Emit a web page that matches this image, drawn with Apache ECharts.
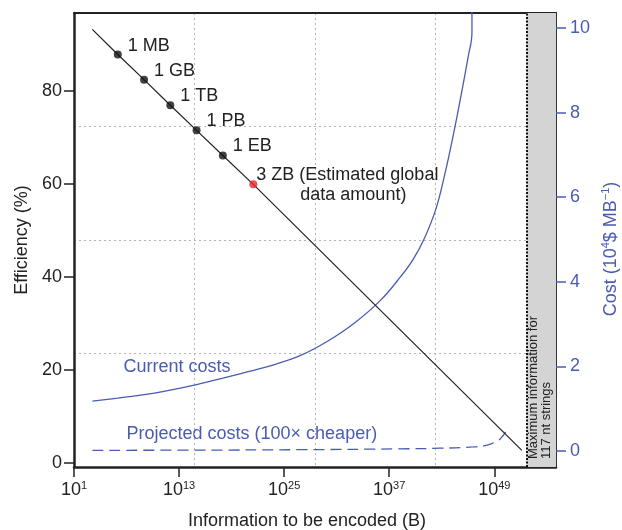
<!DOCTYPE html>
<html>
<head>
<meta charset="utf-8">
<script src="https://cdn.jsdelivr.net/npm/echarts@6/dist/echarts.min.js"></script>
<style>
  html, body { margin: 0; padding: 0; background: #fff; }
  #chart { width: 622px; height: 530px; }
</style>
</head>
<body>
<div id="chart"></div>
<script>
// x values are log10 of the number of bytes encoded
const exponentTicks = [1, 13, 25, 37, 49];
const efficiencyTicks = [0, 20, 40, 60, 80];
const costTicks = [0, 2, 4, 6, 8, 10];

// Marked data sizes on the efficiency line
const sizeLabels = ['1 MB', '1 GB', '1 TB', '1 PB', '1 EB', '3 ZB'];
const sizeExponents = [6, 9, 12, 15, 18, 21.48];
const sizeEfficiency = [87.8, 82.4, 76.9, 71.5, 66.1, 59.9];

// Efficiency (%) line
const effExponents = [3.09, 6, 9, 12, 15, 18, 21.48, 52.15];
const effValues = [93.2, 87.8, 82.4, 76.9, 71.5, 66.1, 59.9, 2.7];

// Current costs (10^4 $ per MB)
const currentExponents = [3.1, 6, 9, 12, 15, 18, 21, 24, 27, 30, 33, 36, 38.3, 39.7, 41, 42.3, 43.3, 44.3, 45.2, 46.0, 46.45, 46.45];
const currentCosts = [1.18, 1.25, 1.33, 1.44, 1.57, 1.72, 1.88, 2.05, 2.27, 2.6, 3.02, 3.56, 4.12, 4.52, 5.02, 5.7, 6.5, 7.45, 8.4, 9.3, 9.89, 11];

// Projected costs (100x cheaper)
const projectedExponents = [3.1, 15, 26.8, 38.3, 42.8, 46.6, 48.2, 49.0, 49.7, 50.3];
const projectedCosts = [0.015, 0.02, 0.03, 0.05, 0.065, 0.095, 0.14, 0.2, 0.29, 0.45];

// Upper limit of information for 117 nt strings, and the axis end
const maxInfoExponent = 52.68;
const axisMaxExponent = 56.05;

const BLUE = '#4a5bb4';
const TEXT = '#222';
const FONT = '"Liberation Sans", Arial, Helvetica, sans-serif';

const chart = echarts.init(document.getElementById('chart'), null, { renderer: 'canvas' });

const pairs = (xs, ys) => xs.map((x, i) => [x, ys[i]]);

const markerData = sizeExponents.map((x, i) => {
  const item = {
    value: [x, sizeEfficiency[i]],
    name: sizeLabels[i],
    itemStyle: { color: i === sizeLabels.length - 1 ? '#e8262d' : '#111' }
  };
  if (i === sizeLabels.length - 1) {
    item.label = {
      position: 'right',
      distance: 5,
      offset: [-6, 1],
      lineHeight: 20,
      formatter: '{n|' + sizeLabels[i] + ' }{t|(Estimated global}\n{p| }{t|data amount)}',
      rich: {
        n: { width: 43, fontSize: 18, color: TEXT, fontFamily: FONT, lineHeight: 20 },
        p: { width: 44, fontSize: 18, color: TEXT, fontFamily: FONT, lineHeight: 20 },
        t: { fontSize: 18, color: TEXT, fontFamily: FONT, lineHeight: 20 }
      }
    };
  }
  return item;
});

const dottedGrid = { show: true, lineStyle: { color: '#b4b4b4', width: 1, type: [2, 3] }, showMinLine: false, showMaxLine: false };

const option = {
  animation: false,
  backgroundColor: '#fff',
  textStyle: { fontFamily: FONT },
  grid: { left: 74, right: 66, top: 13, bottom: 63, containLabel: false, outerBoundsMode: 'none' },
  xAxis: [
    {
      type: 'value',
      min: 1,
      max: axisMaxExponent,
      position: 'bottom',
      name: 'Information to be encoded (B)',
      nameLocation: 'middle',
      nameGap: 45,
      nameTextStyle: { fontSize: 18, color: TEXT, fontFamily: FONT, padding: [0, 16, 0, 0] },
      axisLine: { show: true, onZero: false, lineStyle: { color: '#222', width: 2.5 } },
      axisTick: { show: true, inside: false, length: 10, customValues: exponentTicks, lineStyle: { color: '#222', width: 1.5 } },
      axisLabel: {
        customValues: exponentTicks,
        margin: 13,
        fontSize: 18,
        lineHeight: 20,
        color: TEXT,
        fontFamily: FONT,
        formatter: v => '10{s|' + v + '}',
        rich: { s: { fontSize: 11, lineHeight: 12, verticalAlign: 'top', color: TEXT, fontFamily: FONT } }
      },
      splitLine: { show: false }
    },
    {
      // frame top edge and the vertical dotted quarter lines
      type: 'value', min: 0, max: 4, interval: 1, position: 'top',
      axisLine: { show: true, onZero: false, lineStyle: { color: '#222', width: 2 } },
      axisTick: { show: false }, axisLabel: { show: false },
      splitLine: dottedGrid
    }
  ],
  yAxis: [
    {
      type: 'value',
      min: -0.86,
      max: 96.73,
      position: 'left',
      name: 'Efficiency (%)',
      nameLocation: 'middle',
      nameGap: 42,
      nameTextStyle: { fontSize: 18, color: TEXT, fontFamily: FONT },
      axisLine: { show: true, onZero: false, lineStyle: { color: '#222', width: 2.5 } },
      axisTick: { show: true, length: 10, customValues: efficiencyTicks, lineStyle: { color: '#222', width: 1.5 } },
      axisLabel: { customValues: efficiencyTicks, margin: 12, fontSize: 18, color: TEXT, fontFamily: FONT },
      splitLine: { show: false }
    },
    {
      type: 'value',
      min: -0.379,
      max: 10.355,
      position: 'right',
      name: 'Cost (10{s|4}$ MB{s|−1})',
      nameLocation: 'middle',
      nameGap: 42,
      nameTextStyle: {
        fontSize: 18, color: BLUE, fontFamily: FONT, lineHeight: 20, padding: [0, 18, 0, 0],
        rich: { s: { fontSize: 11, lineHeight: 12, verticalAlign: 'top', color: BLUE, fontFamily: FONT } }
      },
      axisLine: { show: true, onZero: false, lineStyle: { color: '#333', width: 2 } },
      axisTick: { show: true, length: 10, customValues: costTicks, lineStyle: { color: BLUE, width: 1.5 } },
      axisLabel: { customValues: costTicks, margin: 14, fontSize: 18, color: BLUE, fontFamily: FONT },
      splitLine: { show: false }
    },
    {
      // horizontal dotted quarter lines
      type: 'value', min: 0, max: 4, interval: 1, position: 'left',
      axisLine: { show: false, onZero: false }, axisTick: { show: false }, axisLabel: { show: false },
      splitLine: dottedGrid
    }
  ],
  series: [
    {
      name: 'Efficiency',
      type: 'line',
      xAxisIndex: 0,
      yAxisIndex: 0,
      data: pairs(effExponents, effValues),
      symbol: 'none',
      lineStyle: { color: '#222', width: 1.2 },
      z: 4,
      markArea: {
        silent: true,
        itemStyle: { color: '#d4d4d4', opacity: 1 },
        data: [[{ xAxis: maxInfoExponent, yAxis: -0.86 }, { xAxis: axisMaxExponent, yAxis: 96.73 }]]
      },
      markLine: {
        silent: true,
        symbol: 'none',
        label: { show: false },
        lineStyle: { color: '#111', width: 2, type: [2, 1.5] },
        data: [{ xAxis: maxInfoExponent }]
      }
    },
    {
      name: 'Data sizes',
      type: 'scatter',
      xAxisIndex: 0,
      yAxisIndex: 0,
      data: markerData,
      symbol: 'circle',
      symbolSize: 8,
      z: 5,
      label: {
        show: true,
        position: 'right',
        distance: 5,
        offset: [1, -9],
        fontSize: 18,
        color: TEXT,
        opacity: 1,
        textBorderWidth: 0,
        fontFamily: FONT,
        formatter: p => p.name
      }
    },
    {
      name: 'Current costs',
      type: 'line',
      xAxisIndex: 0,
      yAxisIndex: 1,
      data: pairs(currentExponents, currentCosts),
      symbol: 'none',
      smooth: 0.4,
      lineStyle: { color: BLUE, width: 1.3 },
      z: 3
    },
    {
      name: 'Projected costs',
      type: 'line',
      xAxisIndex: 0,
      yAxisIndex: 1,
      data: pairs(projectedExponents, projectedCosts),
      symbol: 'none',
      smooth: 0.4,
      lineStyle: { color: BLUE, width: 1.3, type: [11, 6] },
      z: 3
    }
  ],
  graphic: [
    {
      type: 'text', x: 123.5, y: 367, silent: true,
      style: { text: 'Current costs', fill: BLUE, fontSize: 18, fontFamily: FONT, align: 'left', verticalAlign: 'middle' }
    },
    {
      type: 'text', x: 126.5, y: 434, silent: true,
      style: { text: 'Projected costs (100× cheaper)', fill: BLUE, fontSize: 18, fontFamily: FONT, align: 'left', verticalAlign: 'middle' }
    },
    {
      type: 'text', x: 540, y: 459, rotation: Math.PI / 2, silent: true, z: 10,
      style: { text: 'Maximum information for\n117 nt strings', fill: '#222', fontSize: 13, lineHeight: 13, fontFamily: FONT, align: 'left', verticalAlign: 'middle' }
    }
  ]
};

chart.setOption(option);
</script>
</body>
</html>
